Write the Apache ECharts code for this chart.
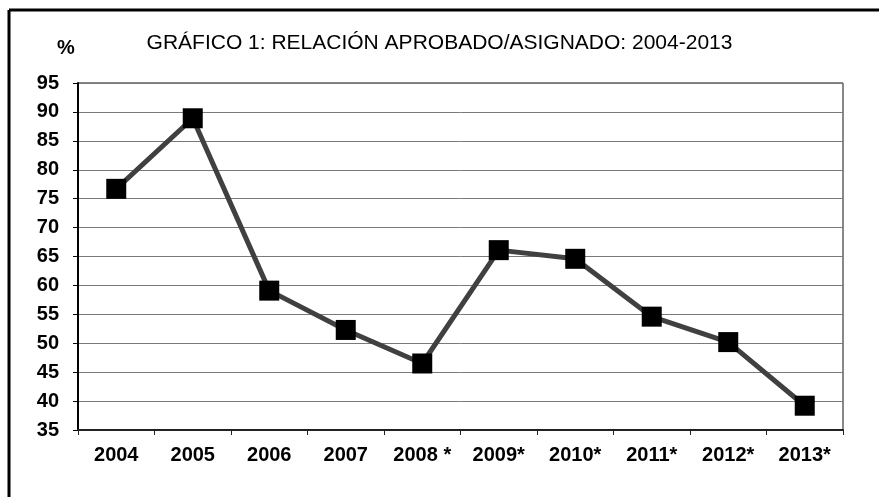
<!DOCTYPE html>
<html>
<head>
<meta charset="utf-8">
<script src="https://cdn.jsdelivr.net/npm/echarts@6/dist/echarts.min.js"></script>
<style>
  html, body { margin: 0; padding: 0; background: #fff; }
  #myChart { width: 879px; height: 497px; }
</style>
</head>
<body>
<div id="myChart"></div>
<script>
// años y relación aprobado/asignado (%)
var years = ["2004", "2005", "2006", "2007", "2008 *", "2009*", "2010*", "2011*", "2012*", "2013*"];
var ratio = [76.7, 88.9, 59.1, 52.3, 46.5, 66.1, 64.6, 54.6, 50.2, 39.2];
var yTicks = [35, 40, 45, 50, 55, 60, 65, 70, 75, 80, 85, 90, 95];

var myChart = echarts.init(document.getElementById("myChart"));
myChart.setOption({
  animation: false,
  title: {
    text: "GRÁFICO 1: RELACIÓN APROBADO/ASIGNADO: 2004-2013",
    left: "center",
    top: 28,
    textStyle: {
      fontFamily: "Liberation Sans, Arial",
      fontSize: 21,
      fontWeight: "normal",
      color: "#000"
    }
  },
  graphic: [
    // marco exterior (solo izquierda y arriba visibles)
    { type: "line", shape: { x1: 9, y1: 10, x2: 879, y2: 10 }, style: { stroke: "#000", lineWidth: 3 } },
    { type: "line", shape: { x1: 9, y1: 10, x2: 9, y2: 497 }, style: { stroke: "#000", lineWidth: 3 } },
    // borde superior y derecho del área de trazado
    { type: "line", shape: { x1: 78, y1: 83, x2: 843, y2: 83 }, style: { stroke: "#888", lineWidth: 2 } },
    { type: "line", shape: { x1: 843, y1: 83, x2: 843, y2: 430 }, style: { stroke: "#888", lineWidth: 2 } },
    {
      type: "text", left: 57, top: 38,
      style: { text: "%", font: "bold 20px Liberation Sans, Arial", fill: "#000" }
    }
  ],
  grid: { left: 78, right: 36, top: 83, bottom: 67 },
  xAxis: {
    type: "category",
    data: years,
    boundaryGap: true,
    axisLine: { lineStyle: { color: "#222", width: 2 } },
    axisTick: { show: true, length: 5, lineStyle: { color: "#222" } },
    axisLabel: {
      color: "#000",
      fontFamily: "Liberation Sans, Arial",
      fontWeight: "bold",
      fontSize: 20,
      margin: 15
    },
    splitLine: { show: false }
  },
  yAxis: {
    type: "value",
    min: yTicks[0],
    max: yTicks[yTicks.length - 1],
    interval: 5,
    axisLine: { show: true, lineStyle: { color: "#000", width: 2 } },
    axisTick: { show: true, length: 5, lineStyle: { color: "#000" } },
    axisLabel: {
      color: "#000",
      fontFamily: "Liberation Sans, Arial",
      fontWeight: "bold",
      fontSize: 20,
      margin: 19
    },
    splitLine: { show: true, lineStyle: { color: "#7a7a7a", width: 1 } }
  },
  series: [
    {
      type: "line",
      data: ratio,
      symbol: "rect",
      symbolSize: 20,
      itemStyle: { color: "#000" },
      lineStyle: { color: "#404040", width: 5 }
    }
  ]
});
</script>
</body>
</html>
